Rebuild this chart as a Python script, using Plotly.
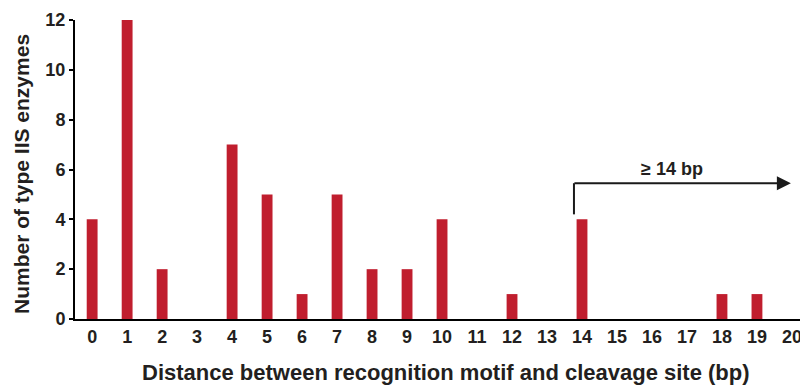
import plotly.graph_objects as go

distances = list(range(0, 21))
counts = [4, 12, 2, 0, 7, 5, 1, 5, 2, 2, 4, 0, 1, 0, 4, 0, 0, 0, 1, 1, 0]
y_ticks = [0, 2, 4, 6, 8, 10, 12]
x_title = "Distance between recognition motif and cleavage site (bp)"
y_title = "Number of type IIS enzymes"
arrow_label = "≥ 14 bp"
arrow_start_x = 13.77
arrow_end_x = 19.97
arrow_low_y = 4.2
arrow_high_y = 5.45

bar_color = "#C01E2E"
text_color = "#231f20"
font = "Liberation Sans, Arial, sans-serif"

L, R, T, B = 75, 0, 20, 68
W, H = 800, 387
pw, ph = W - L - R, H - T - B

fig = go.Figure()
fig.add_trace(go.Bar(x=distances, y=counts, width=0.31,
                     marker=dict(color=bar_color, line=dict(width=0))))

fig.add_shape(type="line", x0=arrow_start_x, x1=arrow_start_x, y0=arrow_low_y, y1=arrow_high_y,
              xref="x", yref="y", line=dict(color="#1a1a1a", width=2))
fig.add_annotation(x=arrow_end_x, y=arrow_high_y, ax=arrow_start_x - 0.03, ay=arrow_high_y,
                   xref="x", yref="y", axref="x", ayref="y", showarrow=True,
                   arrowhead=2, arrowsize=1.4, arrowwidth=2, arrowcolor="#1a1a1a", text="")
fig.add_annotation(x=16.57, y=6.02, xref="x", yref="y", text="<b>" + arrow_label + "</b>",
                   showarrow=False, font=dict(family=font, size=18, color=text_color))

# axis titles
fig.add_annotation(x=(446 - L) / pw, xref="paper", y=(H - B - 372) / ph, yref="paper",
                   text="<b>" + x_title + "</b>", showarrow=False,
                   font=dict(family=font, size=22, color=text_color),
                   xanchor="center", yanchor="middle")
fig.add_annotation(x=(21 - L) / pw, xref="paper", y=(H - B - 174) / ph, yref="paper",
                   text="<b>" + y_title + "</b>", showarrow=False, textangle=-90,
                   font=dict(family=font, size=21, color=text_color),
                   xanchor="center", yanchor="middle")

fig.update_layout(
    width=W, height=H,
    margin=dict(l=L, r=R, t=T, b=B),
    paper_bgcolor="white", plot_bgcolor="white",
    showlegend=False,
    font=dict(family=font, size=18, color=text_color),
)

fig.update_xaxes(range=[-0.49, 20.23], tickmode="array", tickvals=distances,
                 ticktext=["<b>%d</b>" % d for d in distances], showline=True,
                 linecolor="black", linewidth=2, ticks="", showgrid=False, zeroline=False,
                 automargin=False, ticklabeloverflow="allow",
                 tickfont=dict(family=font, size=18, color=text_color))
fig.update_yaxes(range=[0, 12], tickmode="array", tickvals=y_ticks,
                 ticktext=["<b>%d</b>" % v for v in y_ticks], showline=True,
                 linecolor="black", linewidth=2, ticks="outside", ticklen=4, tickwidth=2,
                 tickcolor="black", showgrid=False, zeroline=False, automargin=False,
                 tickfont=dict(family=font, size=18, color=text_color))

fig.write_html("out.html", config={"displayModeBar": False},
               post_script="document.body.style.margin='0';document.body.style.overflow='hidden';")
